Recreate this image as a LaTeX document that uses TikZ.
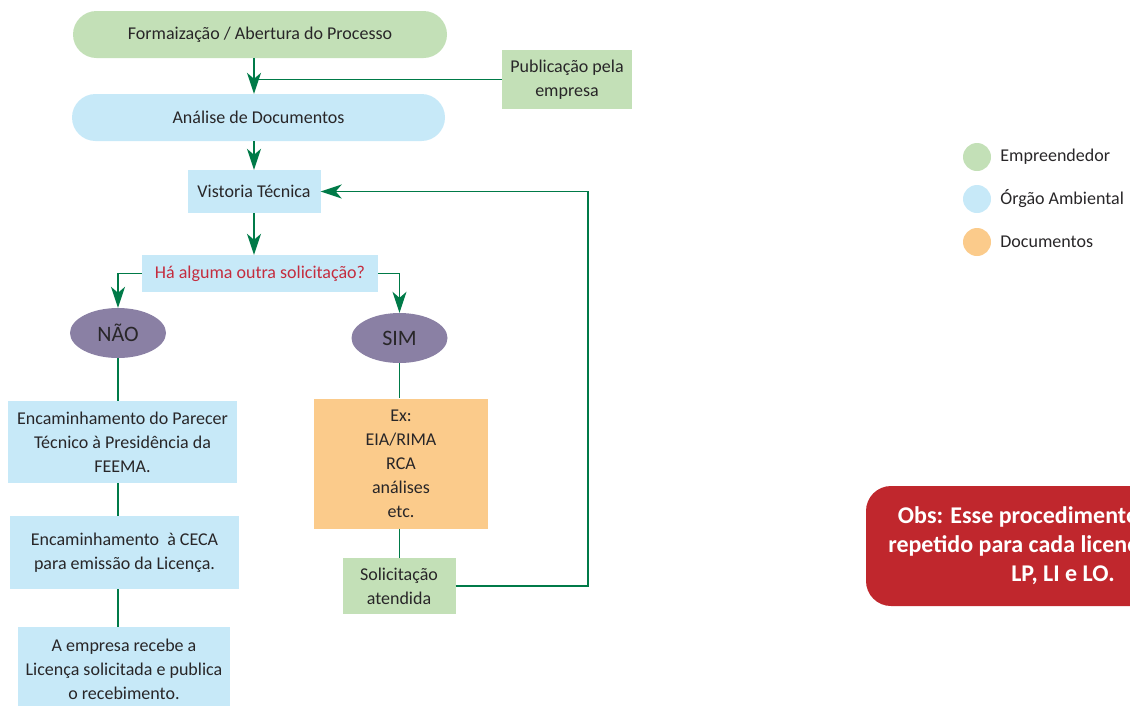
\documentclass[tikz,border=0pt]{standalone}
\usepackage{fontspec}
\setmainfont{Carlito}
\usetikzlibrary{arrows.meta,positioning,shapes.geometric}
\definecolor{empgreen}{RGB}{195,224,183}
\definecolor{orgblue}{RGB}{199,233,248}
\definecolor{docorange}{RGB}{251,203,139}
\definecolor{answerpurple}{RGB}{138,128,164}
\definecolor{flowgreen}{RGB}{0,122,72}
\definecolor{asktext}{RGB}{196,44,62}
\definecolor{obsred}{RGB}{192,39,45}
\definecolor{bodytext}{RGB}{40,38,40}

\begin{document}
\begin{tikzpicture}[x=1pt, y=-1pt, every node/.style={text=bodytext, font=\fontsize{18}{24}\selectfont}]
        \tikzstyle{box}=[inner sep=2pt, align=center, shape=rectangle]
        \tikzstyle{pill}=[box, rounded corners=23.5pt, minimum height=47pt]
        \tikzstyle{answer}=[shape=ellipse, fill=answerpurple, minimum width=96pt, minimum height=50pt, inner sep=0pt, font=\fontsize{22}{24}\selectfont]
        \tikzstyle{flow}=[-{Stealth[length=21pt, width=14pt, inset=6pt]}, flowgreen, line width=1.5pt]
        \tikzstyle{link}=[flowgreen, line width=1.5pt]
        \tikzstyle{dot}=[shape=circle, minimum size=28pt, inner sep=0pt]
        \tikzstyle{legend}=[inner sep=3pt, right=6pt of #1]

        \useasboundingbox (0,0) rectangle (1130,705);
        \clip (0,0) rectangle (1130,705);

        % flow nodes
        \node [style=pill, fill=empgreen, minimum width=374pt] (form) at (260, 34.5) {Formaização / Abertura do Processo};
        \node [style=box, fill=empgreen, minimum width=130pt, minimum height=59pt] (pub) at (567, 79.5) {Publicação pela\\empresa};
        \node [style=pill, fill=orgblue, minimum width=373pt] (ana) at (258.5, 117.5) {Análise de Documentos};
        \node [style=box, fill=orgblue, minimum width=133pt, minimum height=43pt] (vist) at (254, 191.5) {Vistoria Técnica};
        \node [style=box, fill=orgblue, minimum width=236pt, minimum height=37pt, text=asktext] (ask) at (260, 273.5) {Há alguma outra solicitação?};
        \node [style=answer] (nao) at (118, 333) {NÃO};
        \node [style=answer] (sim) at (399.5, 338) {SIM};
        \node [style=box, fill=orgblue, minimum width=229pt, minimum height=82pt] (parecer) at (122.5, 442) {Encaminhamento do Parecer\\Técnico à Presidência da\\FEEMA.};
        \node [style=box, fill=orgblue, minimum width=229pt, minimum height=73pt] (ceca) at (124.5, 552.5) {Encaminhamento\ \ à CECA\\para emissão da Licença.};
        \node [style=box, fill=orgblue, minimum width=212pt, minimum height=84pt] (recebe) at (124, 669) {A empresa recebe a\\Licença solicitada e publica\\o recebimento.};
        \node [style=box, fill=docorange, minimum width=174pt, minimum height=130pt] (ex) at (401, 463.5) {Ex:\\EIA/RIMA\\RCA\\análises\\etc.};
        \node [style=box, fill=empgreen, minimum width=113pt, minimum height=56pt] (atend) at (399, 586) {Solicitação\\atendida};
        \coordinate (back) at (588, 586);

        % connectors
        \draw [style=flow] (vist |- form.south) to (vist |- ana.north);
        \draw [style=link] (pub.west) to (pub.west -| vist);
        \draw [style=flow] (vist |- ana.south) to (vist.north);
        \draw [style=flow] (vist.south) to (vist |- ask.north);
        \draw [style=flow] (ask.west) -| (nao.north);
        \draw [style=flow] (ask.east) -| (sim.north);
        \draw [style=link] (nao.south) to (nao |- parecer.north);
        \draw [style=link] (nao |- parecer.south) to (nao |- ceca.north);
        \draw [style=link] (nao |- ceca.south) to (nao |- recebe.north);
        \draw [style=link] (sim.south) to (sim |- ex.north);
        \draw [style=link] (sim |- ex.south) to (sim |- atend.north);
        \draw [style=flow] (atend.east) -- (back) |- (vist.east);

        % legend
        \node [style=dot, fill=empgreen] (lg1) at (977, 157) {};
        \node [style=dot, fill=orgblue] (lg2) at (977, 199) {};
        \node [style=dot, fill=docorange] (lg3) at (977, 242) {};
        \node [legend=lg1] (lt1) {Empreendedor};
        \node [legend=lg2] (lt2) {Órgão Ambiental};
        \node [legend=lg3] (lt3) {Documentos};

        % note
        \node [shape=rectangle, fill=obsred, rounded corners=25pt, minimum width=394pt, minimum height=120pt, align=center, text=white, font=\bfseries\fontsize{24}{29}\selectfont] (obs) at (1063, 546) {Obs: Esse procedimento deve ser\\repetido para cada licença, ou seja,\\LP, LI e LO.};
    \end{tikzpicture}
\end{document}
